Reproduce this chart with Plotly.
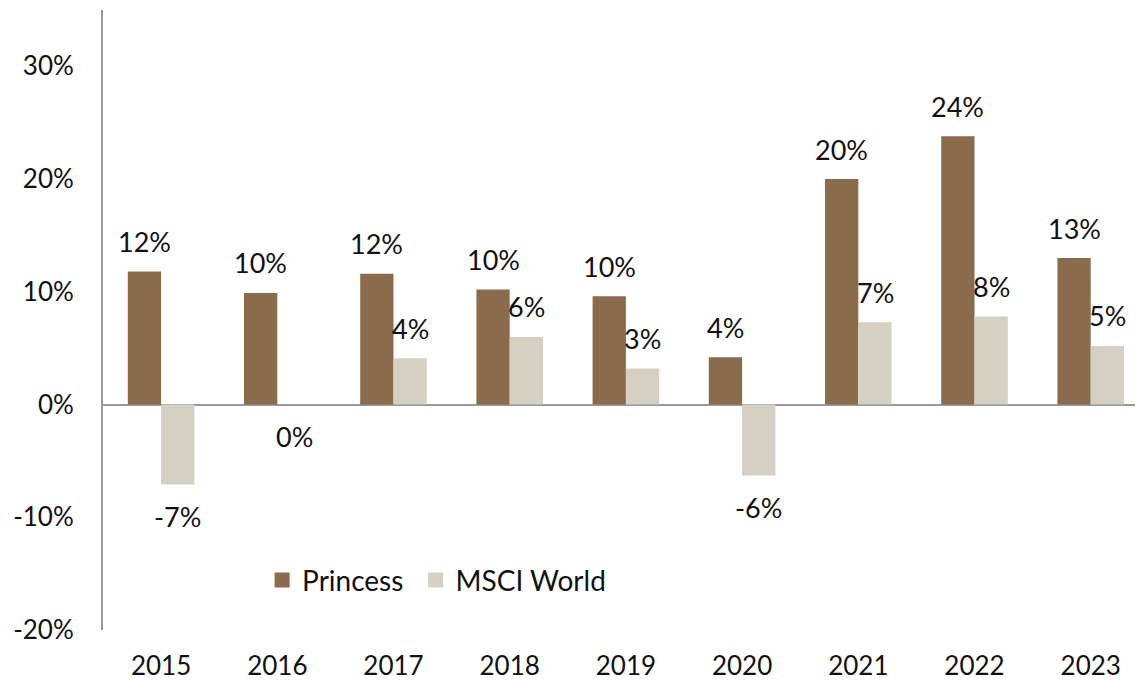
import plotly.graph_objects as go

# Annual returns, %
years = ["2015", "2016", "2017", "2018", "2019", "2020", "2021", "2022", "2023"]
princess = [11.8, 9.9, 11.6, 10.2, 9.6, 4.2, 20.0, 23.8, 13.0]
msci_world = [-7.1, 0.0, 4.1, 6.0, 3.2, -6.3, 7.3, 7.8, 5.2]
y_ticks = [-20, -10, 0, 10, 20, 30]

brown = "#8A6B4C"
beige = "#D6D0C2"
font = "Lato"
fs = 26

fig = go.Figure()
fig.add_trace(go.Bar(x=years, y=princess, name="Princess", showlegend=False,
                     marker=dict(color=brown, line=dict(width=0))))
fig.add_trace(go.Bar(x=years, y=msci_world, name="MSCI World", showlegend=False,
                     marker=dict(color=beige, line=dict(width=0))))
# legend entries with bigger square swatches (nbsp widens the gap between items)
for name, col in [("Princess\u00a0", brown), ("MSCI World", beige)]:
    fig.add_trace(go.Scatter(x=[None], y=[None], mode="markers", name=name,
                             marker=dict(symbol="square", size=15, color=col)))

# value labels, set a bit away from the bar ends like the original
# (x given as category index, numeric year strings would be read as indexes)
bar_half = 16.7
for vals, dx in [(princess, -bar_half), (msci_world, bar_half)]:
    for i, v in enumerate(vals):
        fig.add_annotation(
            x=i, y=v, text=f"{round(v):.0f}%", showarrow=False,
            xshift=dx, yshift=30 if v > 0 else -32,
            font=dict(family=font, size=27, color="#111"),
        )

# page body adds an 8px offset, so the figure is a bit smaller than the window
fig.update_layout(
    width=1135, height=672,
    margin=dict(l=95, r=0, t=2, b=50),
    paper_bgcolor="white", plot_bgcolor="white",
    barmode="group", bargap=0.427, bargroupgap=0,
    font=dict(family=font, size=fs, color="#111"),
    legend=dict(
        orientation="h", x=0.153, y=0.08, xanchor="left", yanchor="middle",
        font=dict(family=font, size=28, color="#111"),
        traceorder="normal", bgcolor="rgba(0,0,0,0)", itemsizing="trace",
    ),
    showlegend=True,
)
fig.update_xaxes(
    type="category", range=[-0.5, len(years) - 0.55], automargin=False,
    showgrid=False, showline=False, zeroline=False,
    ticks="outside", ticklen=13, tickcolor="rgba(0,0,0,0)",
    tickfont=dict(family=font, size=fs, color="#111"),
)
fig.update_yaxes(
    range=[-20, 35], tickvals=y_ticks, ticktext=[f"{t}%" for t in y_ticks],
    automargin=False,
    showgrid=False, zeroline=True, zerolinecolor="#999", zerolinewidth=2,
    showline=True, linecolor="#999", linewidth=2,
    ticks="outside", ticklen=22, tickcolor="rgba(0,0,0,0)",
    tickfont=dict(family=font, size=fs, color="#111"),
)

fig.write_html("out.html")
